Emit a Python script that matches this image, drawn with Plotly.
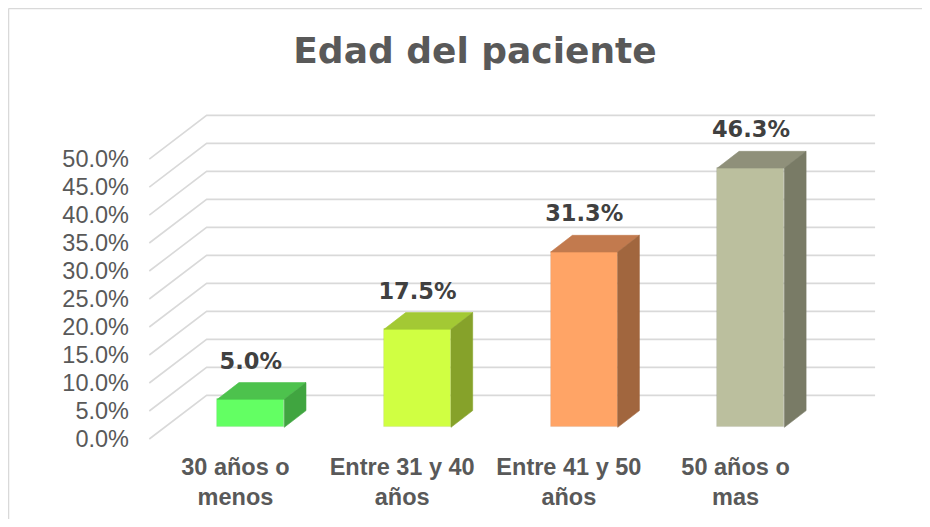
import plotly.graph_objects as go

# ---------------- data ----------------
CATEGORIES = ["30 años o<br>menos", "Entre 31 y 40<br>años", "Entre 41 y 50<br>años", "50 años o<br>mas"]
VALUES = [5.0, 17.5, 31.3, 46.3]
VALUE_LABELS = ["5.0%", "17.5%", "31.3%", "46.3%"]
TICK_VALUES = [0, 5, 10, 15, 20, 25, 30, 35, 40, 45, 50]
TICK_LABELS = ["0.0%", "5.0%", "10.0%", "15.0%", "20.0%", "25.0%", "30.0%", "35.0%", "40.0%", "45.0%", "50.0%"]
TITLE = "Edad del paciente"

# ---------------- styles ----------------
FRONT_COLORS = ["#63FF63", "#D0FF42", "#FFA466", "#BBBF9E"]
TOP_COLORS = ["#4DC24D", "#A3C934", "#C27A4E", "#8F907A"]
SIDE_COLORS = ["#40A540", "#86A22A", "#A1663E", "#797B66"]
GRID_COLOR = "#D9D9D9"
TEXT_COLOR = "#595959"
LABEL_COLOR = "#404040"

# ---------------- 3-D geometry (axis units) ----------------
BAR_W = 0.402          # width of bar front face (category units)
BAR_DX = 0.130         # bar depth, horizontal component
BAR_DY = 2.98          # bar depth, vertical component (value units)
FLOOR_FRONT_DX = -0.092
FLOOR_FRONT_DY = -2.09
FLOOR_BACK_DX_LEFT = -0.265
FLOOR_FRONT_X_LEFT = -0.609
WALL_RIGHT_X = 3.745
FLOOR_BACK_DY = 5.70
LABEL_GAP = 6.5

X_RANGE = [-0.6647, 3.8344]
Y_RANGE = [-4.054, 58.45]

W, H = 914, 511

idx = list(range(len(CATEGORIES)))

fig = go.Figure()

# gridlines (floor diagonals + back wall) as shapes beneath traces
for v in TICK_VALUES:
    path = (f"M {FLOOR_FRONT_X_LEFT},{v + FLOOR_FRONT_DY} "
            f"L {FLOOR_BACK_DX_LEFT},{v + FLOOR_BACK_DY} "
            f"L {WALL_RIGHT_X},{v + FLOOR_BACK_DY}")
    fig.add_shape(type="path", path=path, xref="x", yref="y", layer="below",
                  line=dict(color=GRID_COLOR, width=1.6))

# front faces
fig.add_trace(go.Bar(
    x=idx, y=VALUES, width=BAR_W,
    marker=dict(color=FRONT_COLORS, line=dict(color="rgba(0,0,0,0.08)", width=0.8)),
    hoverinfo="skip", showlegend=False,
))

# top and side faces
for i, v in enumerate(VALUES):
    xl, xr = i - BAR_W / 2, i + BAR_W / 2
    top_x = [xl, xr, xr + BAR_DX, xl + BAR_DX, xl]
    top_y = [v, v, v + BAR_DY, v + BAR_DY, v]
    fig.add_trace(go.Scatter(x=top_x, y=top_y, mode="lines", fill="toself",
                             fillcolor=TOP_COLORS[i], line=dict(color=TOP_COLORS[i], width=0.6),
                             hoverinfo="skip", showlegend=False))
    side_x = [xr, xr + BAR_DX, xr + BAR_DX, xr, xr]
    side_y = [0, BAR_DY, v + BAR_DY, v, 0]
    fig.add_trace(go.Scatter(x=side_x, y=side_y, mode="lines", fill="toself",
                             fillcolor=SIDE_COLORS[i], line=dict(color=SIDE_COLORS[i], width=0.6),
                             hoverinfo="skip", showlegend=False))

# data labels
fig.add_trace(go.Scatter(
    x=idx, y=[v + LABEL_GAP for v in VALUES], mode="text",
    text=VALUE_LABELS, textposition="middle center",
    textfont=dict(family="DejaVu Sans", size=22.5, color=LABEL_COLOR, weight="bold"),
    hoverinfo="skip", showlegend=False,
))

# chart border: only the left and top edges fall inside the frame
BORDER_X = -0.1753
BORDER_Y = 1.2614
fig.add_shape(type="line", xref="paper", yref="paper",
              x0=BORDER_X, x1=BORDER_X, y0=BORDER_Y, y1=-0.3,
              line=dict(color=GRID_COLOR, width=1.5), layer="below")
fig.add_shape(type="line", xref="paper", yref="paper",
              x0=BORDER_X, x1=1.1, y0=BORDER_Y, y1=BORDER_Y,
              line=dict(color=GRID_COLOR, width=1.5), layer="below")

fig.update_layout(
    width=W, height=H,
    margin=dict(l=132, r=W - 132 - 750, t=92, b=H - 92 - 350),
    paper_bgcolor="white", plot_bgcolor="white",
    title=dict(text=TITLE, x=467 / W, xanchor="center", xref="container",
               y=1 - 42 / H, yanchor="middle", yref="container",
               font=dict(family="DejaVu Sans", size=36, color=TEXT_COLOR, weight="bold")),
    xaxis=dict(range=X_RANGE, tickvals=[i + FLOOR_FRONT_DX for i in idx], ticktext=CATEGORIES,
               showgrid=False, zeroline=False, showline=False, ticks="", automargin=False,
               tickfont=dict(family="Liberation Sans", size=23.5, color=TEXT_COLOR, weight="bold")),
    yaxis=dict(range=Y_RANGE, tickvals=[v + FLOOR_FRONT_DY for v in TICK_VALUES], ticktext=TICK_LABELS,
               showgrid=False, zeroline=False, showline=False, ticks="", automargin=False,
               ticklabelstandoff=10,
               tickfont=dict(family="Liberation Sans", size=23.5, color=TEXT_COLOR)),
    bargap=0,
    showlegend=False,
)

fig.write_html("out.html")
